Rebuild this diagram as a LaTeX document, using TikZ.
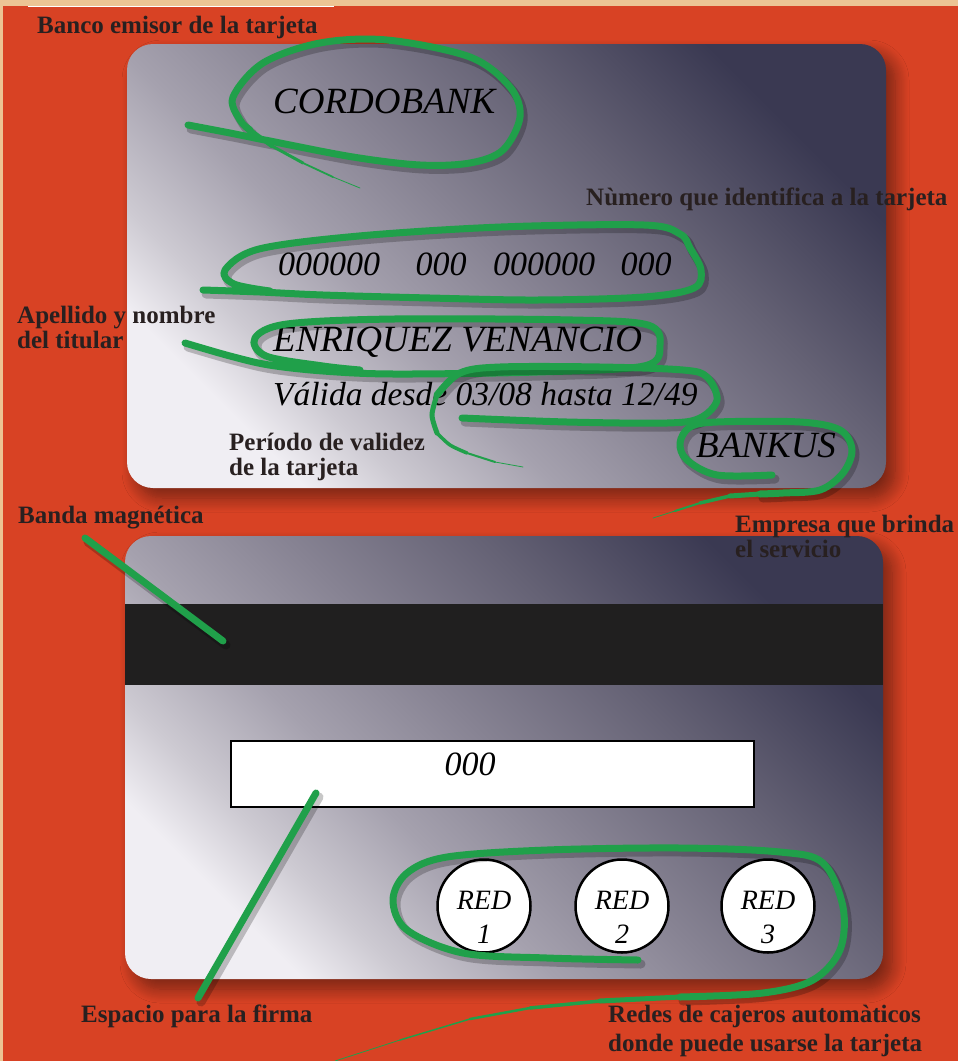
\documentclass[tikz,border=0pt]{standalone}
\usepackage{fontspec}
\setmainfont{Liberation Serif}
\usetikzlibrary{shadows.blur}
\definecolor{bgred}{RGB}{216,66,36}
\definecolor{tan}{RGB}{236,196,148}
\definecolor{grn}{RGB}{32,160,74}
\definecolor{lbl}{RGB}{40,32,32}
\definecolor{stripe}{RGB}{32,31,31}
\definecolor{cs0}{RGB}{240,238,243}
\definecolor{cs1}{RGB}{205,202,210}
\definecolor{cs2}{RGB}{165,161,174}
\definecolor{cs3}{RGB}{135,131,147}
\definecolor{cs4}{RGB}{100,97,116}
\definecolor{cs5}{RGB}{58,57,82}
\pgfdeclareverticalshading{cardshade}{100bp}{color(0bp)=(cs0); color(25bp)=(cs0); color(31bp)=(cs1); color(40bp)=(cs2); color(50bp)=(cs3); color(62bp)=(cs4); color(75bp)=(cs5); color(100bp)=(cs5)}
\tikzset{
  labeltext/.style={font=\fontsize{25}{26}\selectfont\bfseries, text=lbl, anchor=base west, inner sep=0pt},
  cardtext/.style={font=\fontsize{37}{40}\selectfont\itshape, text=black, anchor=base west, inner sep=0pt},
  numtext/.style={font=\fontsize{34}{40}\selectfont\itshape, text=black, anchor=base, inner sep=0pt},
  redtext/.style={font=\fontsize{28}{30}\selectfont\itshape, text=black, anchor=base, inner sep=0pt},
  gline/.style={draw=grn, line width=7pt, line cap=round, line join=round},
  gshadow/.style={draw=black, draw opacity=0.22, line width=9pt, line cap=round, line join=round, shift={(3,4)}},
  cardshape/.style={rounded corners=26pt, shading=cardshade, shading angle=-45,
    blur shadow={shadow xshift=9pt, shadow yshift=-10pt, shadow blur radius=14pt, shadow opacity=45, shadow blur steps=14}},
  ringnode/.style={circle, draw=black, line width=2.5pt, fill=white, minimum size=93pt, inner sep=0pt},
}
\newcommand{\labelline}[4]{\node[labeltext] (#1) at (#2,#3) {#4};}
\newcommand{\gstroke}[1]{\draw[gshadow] #1; \draw[gline] #1;}
\begin{document}
\begin{tikzpicture}[x=1pt,y=-1pt]
\useasboundingbox (0,0) rectangle (958,1061);
% background
\fill[bgred] (0,0) rectangle (958,1061);
\fill[tan] (0,0) rectangle (958,6);
\fill[tan] (0,0) rectangle (3,1061);
\draw[white, line width=1pt] (28,6.5) -- (334,6.5);

% cards
\shade[cardshape] (127,44) rectangle (886,488);
\shade[cardshape] (125,536) rectangle (883,979);
\fill[stripe] (125,604) rectangle (883,685);
\node[draw=black, line width=2.5pt, fill=white, minimum width=523pt, minimum height=66pt, inner sep=0pt] (sig) at (492.5,774) {};
\node[numtext] (sigtext) at (470,775) {000};

% network circles
\node[ringnode] (c1) at (484,906) {};
\node[ringnode] (c2) at (622,906) {};
\node[ringnode] (c3) at (768,906) {};
\node[redtext] (c1a) at (484,909) {RED};
\node[redtext] (c1b) at (484,943) {1};
\node[redtext] (c2a) at (622,909) {RED};
\node[redtext] (c2b) at (622,943) {2};
\node[redtext] (c3a) at (768,909) {RED};
\node[redtext] (c3b) at (768,943) {3};

% card texts
\node[cardtext] (bank) at (273,113) {CORDOBANK};
\node[numtext] (n1) at (329,275) {000000};
\node[numtext] (n2) at (441,275) {000};
\node[numtext] (n3) at (544,275) {000000};
\node[numtext] (n4) at (646,275) {000};
\node[cardtext] (holder) at (273,351) {ENRIQUEZ VENANCIO};
\node[cardtext, font=\fontsize{33.5}{40}\selectfont\itshape] (valid) at (273,405) {Válida desde 03/08 hasta 12/49};
\node[cardtext] (brand) at (696,457) {BANKUS};

% green strokes
\gstroke{plot[smooth, tension=0.55] coordinates {(188,125) (230,133) (270,141) (353,157) (420,165) (470,163) (503,150) (520,117) (510,87) (470,57) (387,40) (320,43) (263,63) (233,97) (240,120) (250,130)}}
\draw[grn, line width=4.5pt, line cap=round] (250,130) -- (272,146);
\draw[grn, line width=3pt, line cap=round] (272,146) -- (303,163);
\draw[grn, line width=1.8pt, line cap=round] (303,163) -- (333,177);
\draw[grn, line width=0.8pt, line cap=round] (333,177) -- (360,188);

\gstroke{plot[smooth, tension=0.55] coordinates {(203,290) (260,292) (323,295) (430,298) (537,300) (644,297) (694,288) (701,270) (690,248) (680,234) (644,225) (501,227) (359,236) (259,249) (225,270) (234,284) (270,291)}}

\gstroke{plot[smooth, tension=0.55] coordinates {(185,343) (230,356) (269,365) (323,371) (394,374) (537,372) (644,366) (660,345) (648,325) (573,320) (394,319) (287,324) (255,338) (266,356) (323,366) (360,370)}}

\gstroke{plot[smooth, tension=0.55] coordinates {(462,418) (567,422) (667,423) (700,418) (717,400) (707,377) (683,370) (600,367) (500,367) (460,373) (437,395)}}
\draw[grn, line width=5pt, line cap=round] plot[smooth] coordinates {(437,395) (432,415) (437,433)};
\draw[grn, line width=3.5pt, line cap=round] plot[smooth] coordinates {(437,433) (450,445) (467,453)};
\draw[grn, line width=2pt, line cap=round] (467,453) -- (495,462);
\draw[grn, line width=0.8pt, line cap=round] (495,462) -- (523,467);

\gstroke{plot[smooth, tension=0.55] coordinates {(772,475) (717,475) (687,460) (680,443) (690,427) (717,422) (800,422) (840,430) (852,450) (843,473) (820,490) (783,493) (760,494)}}
\draw[grn, line width=5pt, line cap=round] (760,494) -- (730,496);
\draw[grn, line width=3.5pt, line cap=round] (730,496) -- (700,503);
\draw[grn, line width=2pt, line cap=round] (700,503) -- (675,511);
\draw[grn, line width=0.8pt, line cap=round] (675,511) -- (653,518);

\gstroke{(85,538) -- (223,641)}
\gstroke{(316,793) -- (198,998)}

\gstroke{plot[smooth, tension=0.55] coordinates {(638,960) (547,958) (463,953) (407,930) (393,900) (407,873) (447,857) (547,850) (680,848) (780,852) (823,863) (843,907) (840,950) (813,980) (763,993) (680,997)}}
\draw[grn, line width=5pt, line cap=round] (680,997) -- (600,1001);
\draw[grn, line width=3.5pt, line cap=round] (600,1001) -- (530,1008);
\draw[grn, line width=2.5pt, line cap=round] (530,1008) -- (470,1019);
\draw[grn, line width=1.5pt, line cap=round] (470,1019) -- (400,1040);
\draw[grn, line width=0.8pt, line cap=round] (400,1040) -- (335,1061);

% labels
\labelline{banco}{37}{33}{Banco emisor de la tarjeta}
\labelline{numero}{586}{205}{Nùmero que identifica a la tarjeta}
\labelline{apellidoa}{17}{323}{Apellido y nombre}
\labelline{apellidob}{17}{348}{del titular}
\labelline{periodoa}{229}{450}{Período de validez}
\labelline{periodob}{229}{475}{de la tarjeta}
\labelline{banda}{18}{523}{Banda magnética}
\labelline{empresaa}{735}{532}{Empresa que brinda}
\labelline{empresab}{735}{557}{el servicio}
\labelline{espacio}{81}{1022}{Espacio para la firma}
\labelline{redesa}{608}{1022}{Redes de cajeros automàticos}
\labelline{redesb}{608}{1051}{donde puede usarse la tarjeta}
\end{tikzpicture}
\end{document}
